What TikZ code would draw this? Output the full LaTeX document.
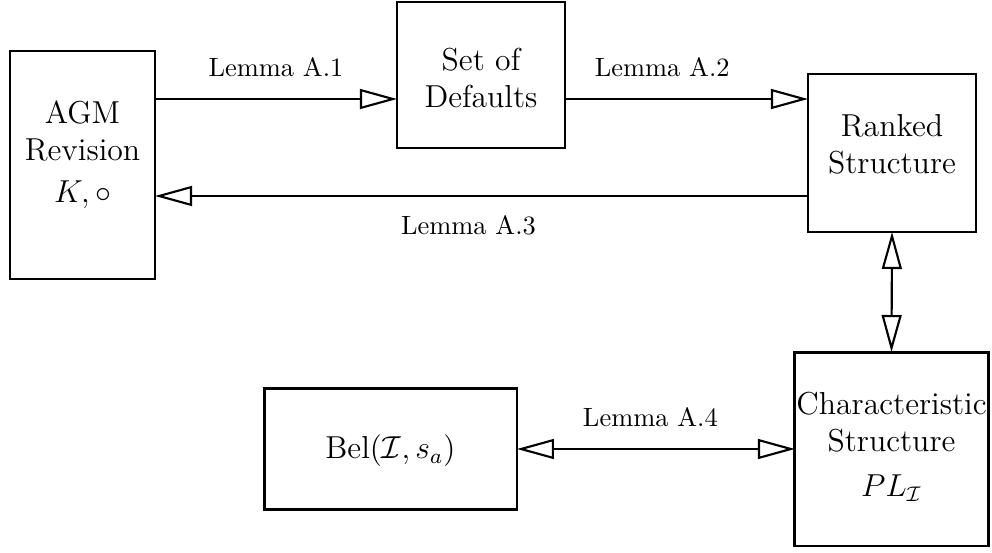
\documentclass[tikz,border=0pt]{standalone}
\usetikzlibrary{arrows.meta}
\tikzset{
    boxnode/.style={draw, line width=1.1pt, inner sep=0pt, outer sep=0pt},
    boxtext/.style={font=\large, align=center, inner sep=0pt},
    lemma/.style={font=\normalsize, inner sep=3.33pt}
}
\begin{document}
\begin{tikzpicture}[x=0.378pt, y=-0.378pt, line width=0.8pt,
        >={Triangle[open,length=14pt,width=7.5pt]}]
    \useasboundingbox (0,0) rectangle (992,552);
    %%Khung
    \node[boxnode, minimum width=54.8pt, minimum height=86.2pt] (agm) at (82.5,165) {};
    \node[boxnode, minimum width=63.5pt, minimum height=55.2pt] (defaults) at (481,75) {};
    \node[boxnode, minimum width=63.5pt, minimum height=59.7pt] (ranked) at (892,153) {};
    \node[boxnode, minimum width=73pt, minimum height=73.3pt] (charact) at (891.5,449) {};
    \node[boxnode, minimum width=95.6pt, minimum height=45.4pt] (bel) at (390.5,449) {};
    %%Chữ trong khung
    \node[boxtext] (agm-txt) at (82.5,155) {AGM\\Revision\\[2pt]$K,\circ$};
    \node[boxtext] (defaults-txt) at (481,78) {Set of\\Defaults};
    \node[boxtext] (ranked-txt) at (892,144) {Ranked\\Structure};
    \node[boxtext] (charact-txt) at (891.5,447) {Characteristic\\Structure\\[3pt]$PL_{\mathcal{I}}$};
    \node[boxtext] (bel-txt) at (390.5,451) {Bel$(\mathcal{I},s_a)$};
    %%Mũi tên
    \draw[->] (agm.east|-0,99) -- (defaults.west|-0,99)
        node[lemma, midway, above=4.6pt] {Lemma A.1};
    \draw[->] (defaults.east|-0,99) -- (ranked.west|-0,99)
        node[lemma, pos=.4, above=4.6pt] {Lemma A.2};
    \draw[->] (ranked.west|-0,196) -- (agm.east|-0,196)
        node[lemma, pos=.52, below=3.5pt] {Lemma A.3};
    \draw[<->] (ranked.south) -- (charact.north);
    \draw[<->] (bel.east) -- (charact.west)
        node[lemma, pos=.48, above=4.6pt] {Lemma A.4};
\end{tikzpicture}
\end{document}
